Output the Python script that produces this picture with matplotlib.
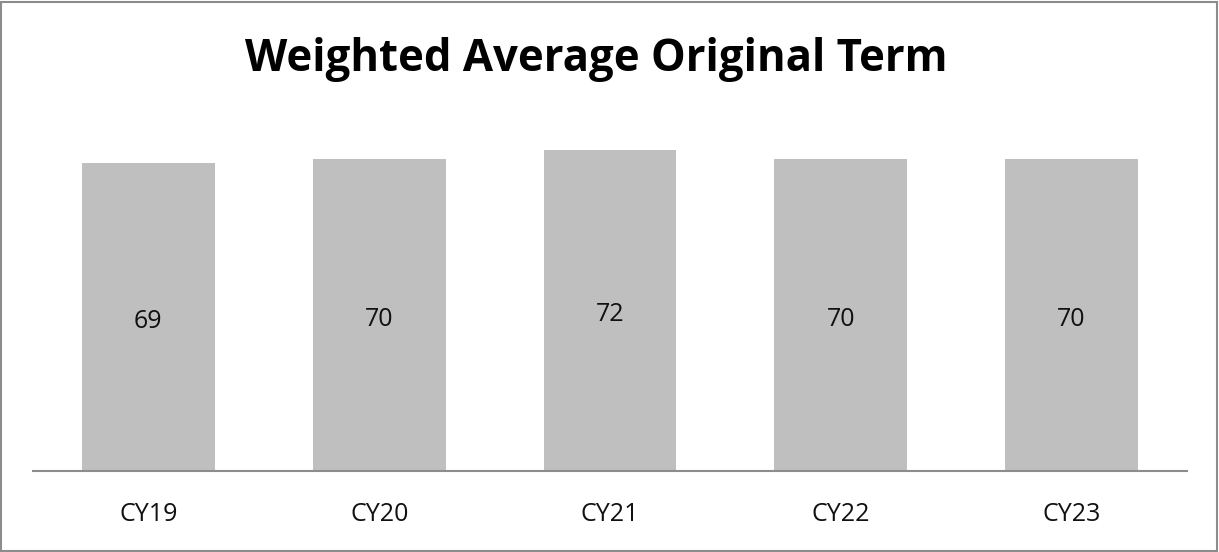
import matplotlib.pyplot as plt
from matplotlib.patches import Rectangle

# dados do grafico
anos = ['CY19', 'CY20', 'CY21', 'CY22', 'CY23']
prazo = [69, 70, 72, 70, 70]

plt.rcParams['font.family'] = ['Open Sans', 'DejaVu Sans']

fig = plt.figure(figsize=(12.19, 5.52), dpi=100)
# eixo: base em y=471 px, 80 unidades ~ 357 px
ax = fig.add_axes([33/1219, (552-471)/552, 1154/1219, 357/552])

x = range(len(anos))
bars = ax.bar(x, prazo, width=0.575, color='#bfbfbf')
for b, v in zip(bars, prazo):
    ax.text(b.get_x() + b.get_width()/2, v/2 - 1, str(v),
            ha='center', va='center', fontsize=18, color='#111111')

ax.set_xlim(-0.5, len(anos) - 0.5)
ax.set_ylim(0, 80)
ax.set_xticks(list(x))
ax.set_xticklabels(anos, fontsize=18, color='#111111')
ax.tick_params(axis='x', length=0, pad=22)
ax.set_yticks([])
for s in ['top', 'right', 'left']:
    ax.spines[s].set_visible(False)
ax.spines['bottom'].set_color('#8c8c8c')
ax.spines['bottom'].set_linewidth(1.5)

fig.text(596/1219, 1 - 59/552, 'Weighted Average Original Term', ha='center', va='center',
         fontsize=31.5, fontweight='bold', color='black')

# borda externa
fig.patches.append(Rectangle((1/1219, 1/552), 1 - 3/1219, 1 - 3/552, transform=fig.transFigure,
                             fill=False, edgecolor='#8c8c8c', linewidth=1.5))

fig.savefig('out.png', dpi=100)
